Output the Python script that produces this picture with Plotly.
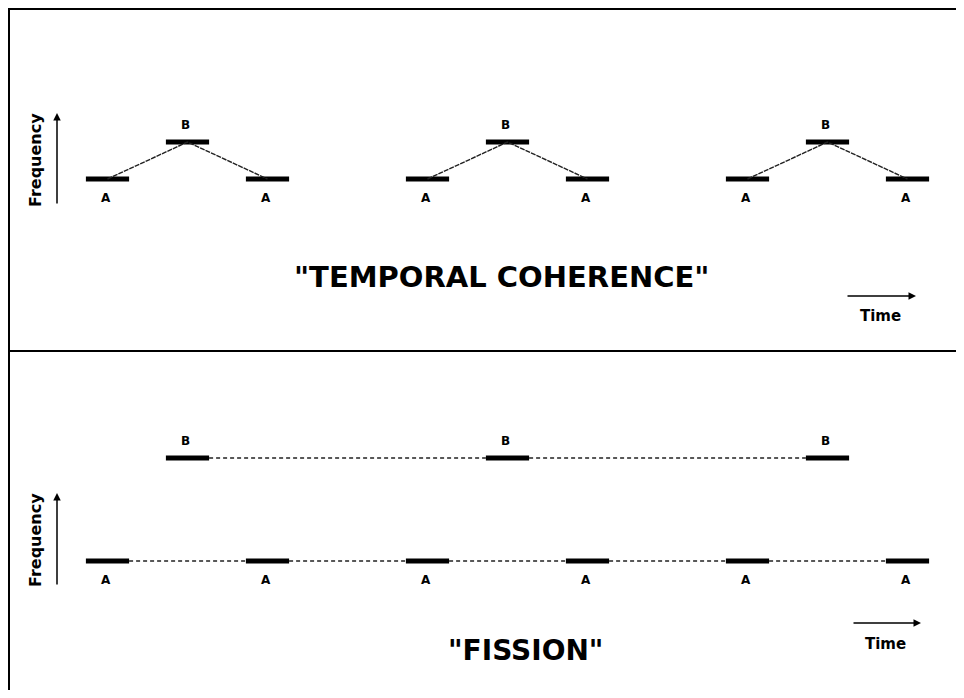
import plotly.graph_objects as go

# ---- data ----
# time slots (tone positions) and their frequency level (A=1, B=2)
top_slots = [0, 1, 2, 4, 5, 6, 8, 9, 10]
top_tones = ["A", "B", "A", "A", "B", "A", "A", "B", "A"]
bottom_slots = [0, 1, 2, 4, 5, 6, 8, 9, 10]
bottom_tones = ["A", "B", "A", "A", "B", "A", "A", "B", "A"]
tone_level = {"A": 1, "B": 2}
bar_half = 0.27  # half-duration of a tone (time units)

# the page body has an 8px margin: figure sits at (8, 8) in the window
OFF = 8
W, H = 964 - OFF, 698 - 2 * OFF
def px(x):
    return (x - OFF) / W
def py(y):
    return 1 - (y - OFF) / H

fig = go.Figure()
FONT = "DejaVu Sans"

def add_bars(slots, tones, yaxis):
    for s, t in zip(slots, tones):
        lv = tone_level[t]
        fig.add_trace(go.Scatter(x=[s - bar_half, s + bar_half], y=[lv, lv], mode="lines",
                                 line=dict(color="black", width=5), yaxis=yaxis,
                                 hoverinfo="skip", showlegend=False))

# top panel: temporal coherence (A-B-A triplets joined)
add_bars(top_slots, top_tones, "y")
groups = [top_slots[i:i + 3] for i in range(0, len(top_slots), 3)]
tgroups = [top_tones[i:i + 3] for i in range(0, len(top_tones), 3)]
for g, tg in zip(groups, tgroups):
    fig.add_trace(go.Scatter(x=g, y=[tone_level[t] for t in tg], mode="lines",
                             line=dict(color="#222", width=1.4, dash="5px,1px"),
                             yaxis="y", hoverinfo="skip", showlegend=False))

# bottom panel: fission (separate A and B streams)
add_bars(bottom_slots, bottom_tones, "y2")
for tone in ["A", "B"]:
    ss = [s for s, t in zip(bottom_slots, bottom_tones) if t == tone]
    for a, b in zip(ss[:-1], ss[1:]):
        fig.add_trace(go.Scatter(x=[a + bar_half, b - bar_half],
                                 y=[tone_level[tone], tone_level[tone]], mode="lines",
                                 line=dict(color="#222", width=1.5, dash="4px,3px"),
                                 yaxis="y2", hoverinfo="skip", showlegend=False))

annotations = []
def tone_labels(slots, tones, yref):
    for s, t in zip(slots, tones):
        annotations.append(dict(x=s, y=tone_level[t], xref="x", yref=yref, text=t,
                                showarrow=False, xshift=-2,
                                yshift=17 if t == "B" else -19,
                                font=dict(family=FONT, size=12, color="black", weight="bold")))
tone_labels(top_slots, top_tones, "y")
tone_labels(bottom_slots, bottom_tones, "y2")

def arrow(x0, y0, x1, y1):
    annotations.append(dict(x=px(x1), y=py(y1), xref="paper", yref="paper",
                            ax=x0 - x1, ay=y0 - y1, axref="pixel", ayref="pixel",
                            showarrow=True, arrowhead=2, arrowsize=1, arrowwidth=1.5,
                            arrowcolor="black", text=""))

def text(x, y, s, size, angle=0):
    annotations.append(dict(x=px(x), y=py(y), xref="paper", yref="paper", text=s,
                            showarrow=False, textangle=angle, xanchor="center", yanchor="middle",
                            font=dict(family=FONT, size=size, color="black", weight="bold")))

# frequency axes
arrow(57, 205, 57, 113)
text(35, 160, "Frequency", 16, -90)
arrow(57, 586, 57, 493)
text(35, 540, "Frequency", 16, -90)
# time arrows
arrow(846, 296, 916, 296)
text(880, 316, "Time", 15)
arrow(852, 623, 921, 623)
text(885, 644, "Time", 15)
# titles
text(501, 277, '"TEMPORAL COHERENCE"', 29)
text(525, 650, '"FISSION"', 28)

shapes = [
    dict(type="line", xref="paper", yref="paper", x0=0, x1=1, y0=py(9), y1=py(9),
         line=dict(color="black", width=2)),
    dict(type="line", xref="paper", yref="paper", x0=px(9), x1=px(9), y0=py(9), y1=0,
         line=dict(color="black", width=2)),
    dict(type="line", xref="paper", yref="paper", x0=px(9), x1=1, y0=py(351), y1=py(351),
         line=dict(color="black", width=2)),
]

# axis ranges: slot i center at window pixel 107.5 + 80*i
c0 = 107.5 - OFF
x_lo = (0 - c0) / 80
x_hi = (W - c0) / 80
# top: A at 179 px, B at 142 px ; bottom: A at 561 px, B at 458 px (window pixels)
def yrange(pA, pB):
    pA -= OFF
    pB -= OFF
    d = pA - pB
    return [1 + (pA - H) / d, 1 + pA / d]

fig.update_layout(
    width=W, height=H, margin=dict(l=0, r=0, t=0, b=0),
    paper_bgcolor="white", plot_bgcolor="white",
    xaxis=dict(range=[x_lo, x_hi], visible=False, domain=[0, 1]),
    yaxis=dict(range=yrange(179, 142), visible=False, domain=[0, 1]),
    yaxis2=dict(range=yrange(561, 458), visible=False, overlaying="y", anchor="x"),
    annotations=annotations, shapes=shapes, showlegend=False,
)
fig.write_html("out.html")
